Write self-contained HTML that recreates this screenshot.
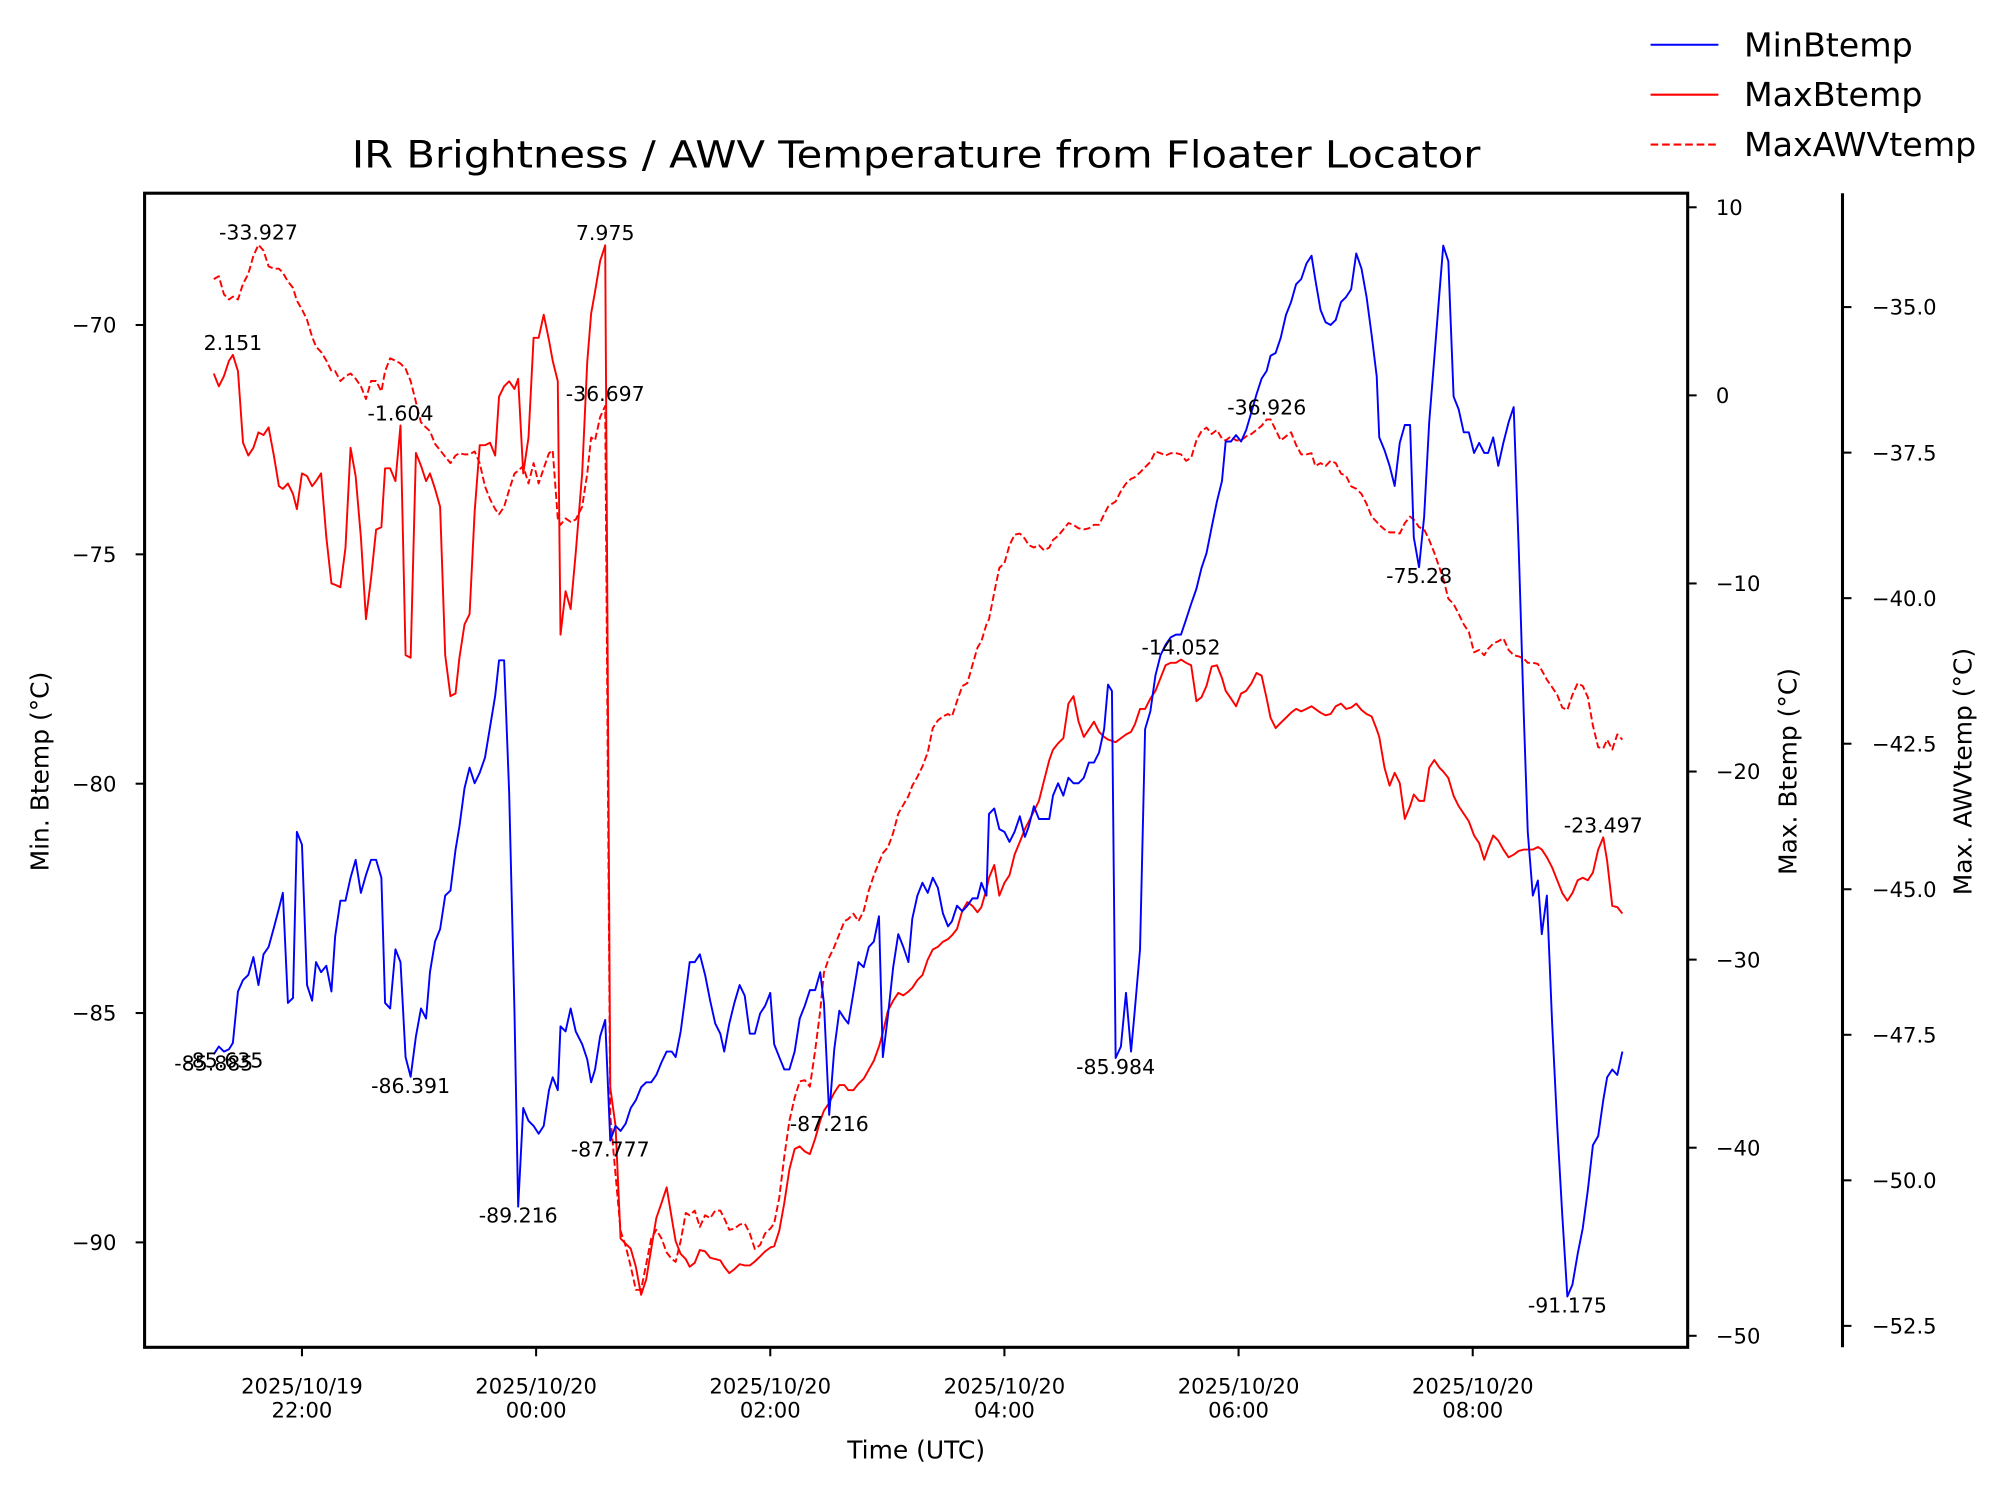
<!DOCTYPE html>
<html><head><meta charset="utf-8"><style>
html,body{margin:0;padding:0;background:#fff;}
svg{display:block;font-family:"DejaVu Sans","Liberation Sans",sans-serif;}
</style></head><body>
<svg id="chart" width="2005" height="1491" viewBox="0 0 1567 1165.3" preserveAspectRatio="none" xmlns="http://www.w3.org/2000/svg">
<rect x="0" y="0" width="1567" height="1166" fill="#fff"/>
<text x="716" y="131" text-anchor="middle" font-size="29" textLength="882" lengthAdjust="spacingAndGlyphs">IR Brightness / AWV Temperature from Floater Locator</text>
<g id="plot"></g>
<g id="axes"></g>
<g>
 <line x1="1290" y1="35" x2="1343" y2="35" stroke="#0000ff" stroke-width="1.6"/>
 <text x="1363" y="44" font-size="26">MinBtemp</text>
 <line x1="1290" y1="74" x2="1343" y2="74" stroke="#ff0000" stroke-width="1.6"/>
 <text x="1363" y="83" font-size="26">MaxBtemp</text>
 <line x1="1290" y1="113" x2="1343" y2="113" stroke="#ff0000" stroke-width="1.6" stroke-dasharray="6,3"/>
 <text x="1363" y="122" font-size="26">MaxAWVtemp</text>
</g>
<text x="716" y="1140" text-anchor="middle" font-size="19.5">Time (UTC)</text>
<text transform="translate(38,603) rotate(-90)" text-anchor="middle" font-size="19.5">Min. Btemp (°C)</text>
<text transform="translate(1404,603) rotate(-90)" text-anchor="middle" font-size="19.5">Max. Btemp (°C)</text>
<text transform="translate(1541,603) rotate(-90)" text-anchor="middle" font-size="19.5">Max. AWVtemp (°C)</text>
</svg>
<script>
// minutes since 2025/10/19 21:00 UTC
const times = [14.8,17.4,20.0,22.6,24.6,27.2,29.8,32.5,35.1,37.7,
40.3,42.9,45.6,48.2,50.2,52.8,55.4,57.4,60.0,62.6,
65.2,67.2,69.8,72.5,75.1,77.0,79.7,82.3,84.9,87.5,
90.2,92.8,95.4,98.0,100.7,102.6,105.2,107.9,110.5,113.1,
115.7,118.4,121.0,123.6,125.6,128.2,130.8,133.4,136.1,138.7,
140.7,143.3,145.9,148.5,151.1,153.8,156.4,159.0,161.0,163.6,
166.2,168.9,170.8,173.4,176.1,178.7,181.3,183.9,186.6,188.5,
191.1,192.5,195.1,197.7,200.3,203.6,206.2,208.2,210.2,212.8,
215.4,
218.0,220.7,223.3,225.9,228.5,231.1,233.8,236.4,239.0,241.6,
244.3,246.9,249.5,251.5,254.1,256.7,258.7,261.3,263.9,266.6,
269.2,271.8,274.4,276.4,279.0,281.6,284.3,286.9,289.5,292.1,
294.8,297.4,300.0,
302.0,304.6,307.2,309.8,312.5,315.1,317.7,320.3,323.0,325.6,
327.5,330.2,332.8,335.4,338.0,340.0,342.6,345.2,347.9,350.5,
353.1,355.7,357.7,360.3,363.0,365.6,368.2,370.8,372.8,375.4,
378.0,380.7,383.3,385.9,388.5,391.1,393.1,395.7,398.4,401.0,
403.6,406.2,408.2,410.8,412.1,414.8,417.4,420.0,422.6,425.2,
427.9,430.5,432.5,435.1,437.7,440.3,443.0,444.9,447.5,450.2,
452.8,455.4,458.0,460.7,463.3,465.9,468.5,471.1,473.1,475.1,
477.0,479.7,482.3,484.9,486.9,489.5,492.1,494.8,497.4,500.0,
502.6,505.2,507.9,510.5,513.1,515.7,518.4,521.0,523.6,526.2,
528.9,531.5,533.4,536.1,538.7,541.3,543.9,546.6,549.2,551.8,
554.4,556.4,559.0,561.6,564.3,566.9,569.5,572.1,574.8,577.4,
579.3,582.0,584.6,587.2,589.8,592.5,595.1,597.7,600.3,603.0,
605.6,608.2,610.8,612.1,614.8,617.4,620.0,622.6,625.2,627.9,
629.8,632.5,635.1,637.7,640.3,643.0,644.9,647.5,650.2,652.8,
655.4,658.0,660.7,663.3,665.9,667.9,670.5,673.1,675.7,678.4,
681.0,683.6,686.2,688.2,690.8,693.4,695.4,698.0,700.7,703.3,
705.9,708.5,711.1,713.8,716.4,719.0,721.6,724.3,726.9,728.9,
731.5,734.1,736.7];

const minBtemp = [-85.90,-85.73,-85.84,-85.79,-85.65,-84.53,-84.28,-84.17,-83.78,-84.39,
-83.72,-83.56,-83.14,-82.72,-82.38,-84.78,-84.67,-81.05,-81.33,-84.39,
-84.73,-83.89,-84.11,-83.97,-84.53,-83.33,-82.55,-82.55,-82.05,-81.66,
-82.38,-81.99,-81.66,-81.66,-82.05,-84.78,-84.90,-83.61,-83.89,-85.96,
-86.39,-85.51,-84.90,-85.12,-84.11,-83.44,-83.17,-82.44,-82.33,-81.44,
-80.93,-80.10,-79.65,-79.99,-79.76,-79.43,-78.76,-78.09,-77.31,-77.31,
-80.21,-84.95,-89.22,-87.07,-87.35,-87.46,-87.63,-87.46,-86.68,-86.40,
-86.68,-85.29,-85.40,-84.90,-85.40,-85.68,-86.01,-86.51,-86.23,-85.51,
-85.15,
-87.78,-87.46,-87.57,-87.41,-87.07,-86.90,-86.62,-86.51,-86.51,-86.35,
-86.07,-85.84,-85.84,-85.96,-85.40,-84.56,-83.89,-83.89,-83.72,-84.17,
-84.73,-85.23,-85.45,-85.84,-85.23,-84.78,-84.39,-84.62,-85.45,-85.45,
-85.01,-84.84,-84.56,
-85.68,-85.96,-86.23,-86.23,-85.84,-85.12,-84.84,-84.50,-84.50,-84.11,
-84.78,-87.22,-85.79,-84.95,-85.12,-85.23,-84.56,-83.89,-84.00,-83.56,
-83.44,-82.89,-85.96,-85.06,-84.00,-83.28,-83.56,-83.89,-82.94,-82.44,
-82.16,-82.38,-82.05,-82.27,-82.83,-83.11,-83.00,-82.66,-82.78,-82.66,
-82.50,-82.50,-82.16,-82.44,-80.66,-80.54,-80.99,-81.05,-81.27,-81.05,
-80.71,-81.16,-80.93,-80.49,-80.77,-80.77,-80.77,-80.26,-79.99,-80.26,
-79.87,-79.99,-79.99,-79.87,-79.54,-79.54,-79.32,-78.81,-77.84,-77.98,
-85.98,-85.73,-84.56,-85.84,-84.90,-83.61,-78.81,-78.42,-77.64,-77.20,
-76.97,-76.81,-76.75,-76.75,-76.42,-76.08,-75.75,-75.30,-74.97,-74.41,
-73.85,-73.40,-72.54,-72.54,-72.40,-72.54,-72.29,-71.90,-71.51,-71.17,
-71.00,-70.67,-70.61,-70.28,-69.78,-69.50,-69.11,-69.00,-68.66,-68.49,
-69.00,-69.67,-69.94,-70.00,-69.89,-69.50,-69.39,-69.22,-68.44,-68.77,
-69.39,-70.22,-71.12,-72.45,-72.73,-73.07,-73.51,-72.57,-72.18,-72.18,
-74.63,-75.28,-74.18,-72.12,-70.73,-69.27,-68.27,-68.61,-71.56,-71.84,
-72.34,-72.34,-72.79,-72.57,-72.79,-72.79,-72.45,-73.07,-72.57,-72.12,
-71.79,-74.91,-78.54,-81.05,-82.44,-82.11,-83.28,-82.44,-85.23,-87.46,
-89.41,-91.18,-90.92,-90.25,-89.69,-88.86,-87.88,-87.68,-86.90,-86.40,
-86.23,-86.35,-85.84];

const maxBtemp = [1.16,0.48,1.02,1.84,2.15,1.29,-2.52,-3.20,-2.79,-1.97,
-2.11,-1.70,-3.20,-4.83,-4.97,-4.69,-5.24,-6.05,-4.15,-4.29,
-4.83,-4.56,-4.15,-7.55,-10.00,-10.07,-10.20,-8.10,-2.79,-4.29,
-7.55,-11.90,-9.73,-7.14,-7.01,-3.88,-3.88,-4.56,-1.60,-13.81,
-13.95,-3.06,-3.74,-4.56,-4.15,-4.97,-5.92,-13.81,-15.99,-15.85,
-13.95,-12.18,-11.63,-6.19,-2.65,-2.65,-2.52,-3.20,-0.07,0.48,
0.75,0.34,0.88,-4.15,-2.24,3.06,3.06,4.29,2.93,1.84,
0.75,-12.72,-10.41,-11.36,-8.37,-4.15,1.77,4.35,5.51,7.14,
7.98,
-36.80,-38.84,-44.83,-45.10,-45.37,-46.33,-47.82,-47.01,-45.37,-43.74,
-42.93,-42.11,-43.74,-44.97,-45.65,-45.92,-46.33,-46.12,-45.44,-45.51,
-45.85,-45.92,-45.99,-46.33,-46.67,-46.46,-46.19,-46.26,-46.26,-46.05,
-45.78,-45.51,-45.31,
-45.24,-44.42,-42.93,-41.16,-40.07,-39.93,-40.20,-40.34,-39.52,-38.57,
-38.03,-37.62,-37.07,-36.67,-36.67,-36.94,-36.94,-36.60,-36.33,-35.85,
-35.37,-34.63,-33.88,-32.72,-32.18,-31.77,-31.90,-31.70,-31.50,-31.09,
-30.82,-30.00,-29.46,-29.32,-29.05,-28.91,-28.71,-28.37,-27.41,-26.94,
-27.14,-27.48,-27.21,-26.26,-25.65,-24.97,-26.60,-25.92,-25.51,-24.42,
-23.74,-23.06,-22.65,-22.11,-21.56,-20.48,-19.39,-18.84,-18.50,-18.23,
-16.39,-15.99,-17.35,-18.16,-17.76,-17.35,-17.89,-18.16,-18.30,-18.37,
-18.44,-18.23,-18.03,-17.89,-17.48,-16.67,-16.67,-16.12,-15.71,-15.03,
-14.35,-14.22,-14.22,-14.05,-14.22,-14.35,-16.26,-16.05,-15.44,-14.42,
-14.35,-15.03,-15.71,-16.12,-16.53,-15.85,-15.71,-15.31,-14.76,-14.90,
-16.12,-17.14,-17.69,-17.41,-17.14,-16.87,-16.67,-16.80,-16.67,-16.53,
-16.67,-16.87,-17.01,-16.94,-16.53,-16.39,-16.67,-16.60,-16.39,-16.73,
-16.94,-17.07,-17.76,-18.16,-19.80,-20.75,-20.07,-20.61,-22.52,-21.84,
-21.22,-21.56,-21.56,-19.80,-19.39,-19.80,-20.00,-20.34,-21.29,-21.84,
-22.24,-22.65,-23.40,-23.81,-24.69,-24.08,-23.40,-23.67,-24.15,-24.56,
-24.42,-24.22,-24.15,-24.15,-24.15,-24.01,-24.15,-24.56,-25.10,-25.78,
-26.46,-26.87,-26.46,-25.78,-25.65,-25.78,-25.37,-24.15,-23.50,-24.76,
-27.14,-27.21,-27.55];

const maxAWVtemp = [-34.52,-34.47,-34.78,-34.87,-34.82,-34.87,-34.60,-34.43,-34.12,-33.93,
-34.03,-34.30,-34.34,-34.34,-34.41,-34.56,-34.67,-34.89,-35.04,-35.22,
-35.51,-35.68,-35.77,-35.92,-36.10,-36.10,-36.27,-36.19,-36.14,-36.23,
-36.36,-36.58,-36.27,-36.27,-36.45,-36.10,-35.88,-35.92,-35.97,-36.06,
-36.27,-36.63,-36.98,-37.07,-37.13,-37.35,-37.46,-37.57,-37.68,-37.55,
-37.51,-37.53,-37.53,-37.48,-37.68,-38.08,-38.30,-38.47,-38.56,-38.43,
-38.14,-37.86,-37.81,-37.73,-38.03,-37.68,-38.03,-37.77,-37.51,-37.46,
-38.63,-38.74,-38.63,-38.69,-38.65,-38.43,-37.86,-37.24,-37.29,-36.89,
-36.70,
-48.89,-49.90,-50.87,-51.13,-51.48,-51.88,-51.88,-51.44,-51.00,-50.85,
-51.00,-51.24,-51.35,-51.40,-51.04,-50.56,-50.60,-50.52,-50.80,-50.60,
-50.65,-50.52,-50.52,-50.65,-50.85,-50.83,-50.76,-50.74,-50.91,-51.18,
-51.11,-50.91,-50.83,
-50.74,-50.30,-49.59,-48.98,-48.58,-48.30,-48.28,-48.39,-47.77,-47.09,
-46.43,-46.17,-45.99,-45.77,-45.55,-45.51,-45.42,-45.55,-45.37,-45.02,
-44.76,-44.54,-44.38,-44.28,-44.03,-43.70,-43.55,-43.40,-43.22,-43.07,
-42.89,-42.65,-42.23,-42.10,-42.03,-41.99,-42.03,-41.77,-41.51,-41.46,
-41.15,-40.85,-40.74,-40.45,-40.36,-39.90,-39.48,-39.40,-39.09,-38.91,
-38.89,-38.98,-39.09,-39.13,-39.09,-39.18,-39.13,-39.00,-38.93,-38.82,
-38.71,-38.74,-38.80,-38.82,-38.80,-38.74,-38.74,-38.56,-38.43,-38.38,
-38.34,-38.16,-38.03,-37.95,-37.92,-37.84,-37.75,-37.66,-37.48,-37.51,
-37.55,-37.51,-37.51,-37.53,-37.64,-37.59,-37.29,-37.13,-37.07,-37.18,
-37.11,-37.26,-37.29,-37.22,-37.29,-37.29,-37.22,-37.18,-37.11,-37.04,
-36.93,-36.93,-37.11,-37.29,-37.22,-37.15,-37.37,-37.53,-37.53,-37.51,
-37.73,-37.68,-37.73,-37.64,-37.68,-37.86,-37.90,-38.08,-38.12,-38.21,
-38.38,-38.60,-38.69,-38.74,-38.82,-38.87,-38.87,-38.89,-38.71,-38.60,
-38.65,-38.78,-38.82,-39.00,-39.22,-39.48,-39.66,-40.01,-40.10,-40.27,
-40.45,-40.58,-40.93,-40.89,-40.98,-40.87,-40.78,-40.74,-40.69,-40.89,
-40.98,-41.00,-41.04,-41.11,-41.11,-41.13,-41.24,-41.40,-41.53,-41.66,
-41.88,-41.92,-41.66,-41.46,-41.51,-41.70,-42.19,-42.56,-42.58,-42.43,
-42.60,-42.34,-42.43];

// annotations
const annSeries = ['min','min','min','min','min','min','min','min','min','max','max','max','max','max','awv','awv','awv'];
const annIndex  = [0,2,40,62,81,125,184,245,275,4,38,80,197,282,9,80,214];
const annText   = ['-85.885','-85.635','-86.391','-89.216','-87.777','-87.216','-85.984','-75.28','-91.175','2.151','-1.604','7.975','-14.052','-23.497','-33.927','-36.697','-36.926'];
const annBelow  = [true,true,true,true,true,true,true,true,true,false,false,false,false,false,false,false,false];

// ticks
const xTickMinutes = [60,180,300,420,540,660];
const xTickDates = ['2025/10/19','2025/10/20','2025/10/20','2025/10/20','2025/10/20','2025/10/20'];
const xTickTimes = ['22:00','00:00','02:00','04:00','06:00','08:00'];
const leftTicks = [-70,-75,-80,-85,-90];
const rightTicks = [10,0,-10,-20,-30,-40,-50];
const awvTicks = [-35,-37.5,-40,-42.5,-45,-47.5,-50,-52.5];

// scales (viewBox units)
const X0=113, X1=1319, Y0=151, Y1=1053;
function xS(t){ return 144.5 + t*1.525; }
function yMin(v){ return 254 + (-70 - v)*35.85; }
function yMax(v){ return 309 - v*14.7; }
function yAwv(v){ return 240 + (-35 - v)*45.5; }

const NS='http://www.w3.org/2000/svg';
function mk(tag, attrs, parent){
  const e=document.createElementNS(NS,tag);
  for(const k in attrs) e.setAttribute(k,attrs[k]);
  parent.appendChild(e); return e;
}
const plot=document.getElementById('plot');
const axes=document.getElementById('axes');

function series(vals, yf, color, dash, name){
  const pts=vals.map((v,i)=>xS(times[i]).toFixed(2)+','+yf(v).toFixed(2)).join(' ');
  const p=mk('polyline',{points:pts,fill:'none',stroke:color,'stroke-width':'1.5','stroke-linejoin':'round'},plot);
  if(dash) p.setAttribute('stroke-dasharray',dash);
  
  
}
series(maxAWVtemp, yAwv, '#ff0000', '5.5,2.5', 'maxawvtemp-line');
series(maxBtemp, yMax, '#ff0000', null, 'maxbtemp-line');
series(minBtemp, yMin, '#0000ff', null, 'minbtemp-line');

// annotations
annText.forEach((txt,i)=>{
  const s=annSeries[i], idx=annIndex[i];
  let v, yf;
  if(s==='min'){v=minBtemp[idx]; yf=yMin;} else if(s==='max'){v=maxBtemp[idx]; yf=yMax;} else {v=maxAWVtemp[idx]; yf=yAwv;}
  const y=yf(v)+(annBelow[i]?12.5:-4);
  const t=mk('text',{x:xS(times[idx]).toFixed(1),y:y.toFixed(1),'text-anchor':'middle','font-size':'16'},plot);
  t.textContent=txt;
  
  
});

// frame
const frame=mk('rect',{x:X0,y:Y0,width:X1-X0,height:Y1-Y0,fill:'none',stroke:'#000','stroke-width':'2.4'},axes);


const awvSpine=mk('line',{x1:1440,y1:Y0,x2:1440,y2:Y1,stroke:'#000','stroke-width':'2.4'},axes);



function fmt(v,dec){ const s=Math.abs(v).toFixed(dec); return (v<0?'\u2212':'')+s; }

// x ticks
xTickMinutes.forEach((m,i)=>{
  const x=xS(m);
  const tk=mk('line',{x1:x,y1:Y1,x2:x,y2:Y1+7,stroke:'#000','stroke-width':'1.6'},axes);
  
  
  const t1=mk('text',{x:x,y:1089,'text-anchor':'middle','font-size':'16.5'},axes);
  t1.textContent=xTickDates[i];
  
  
  const t2=mk('text',{x:x,y:1108,'text-anchor':'middle','font-size':'16.5'},axes);
  t2.textContent=xTickTimes[i];
  
  
});
// left ticks
leftTicks.forEach(v=>{
  const y=yMin(v);
  const tk=mk('line',{x1:X0-7,y1:y,x2:X0,y2:y,stroke:'#000','stroke-width':'1.6'},axes);
  
  
  const t=mk('text',{x:X0-22,y:y+6,'text-anchor':'end','font-size':'16.5'},axes);
  t.textContent=fmt(v,0);
  
  
});
// right ticks
rightTicks.forEach(v=>{
  const y=yMax(v);
  const tk=mk('line',{x1:X1,y1:y,x2:X1+7,y2:y,stroke:'#000','stroke-width':'1.6'},axes);
  
  
  const t=mk('text',{x:X1+22,y:y+6,'text-anchor':'start','font-size':'16.5'},axes);
  t.textContent=fmt(v,0);
  
  
});
// awv ticks
awvTicks.forEach(v=>{
  const y=yAwv(v);
  const tk=mk('line',{x1:1440,y1:y,x2:1447,y2:y,stroke:'#000','stroke-width':'1.6'},axes);
  
  
  const t=mk('text',{x:1463,y:y+6,'text-anchor':'start','font-size':'16.5'},axes);
  t.textContent=fmt(v,1);
  
  
});
</script>
</body></html>
